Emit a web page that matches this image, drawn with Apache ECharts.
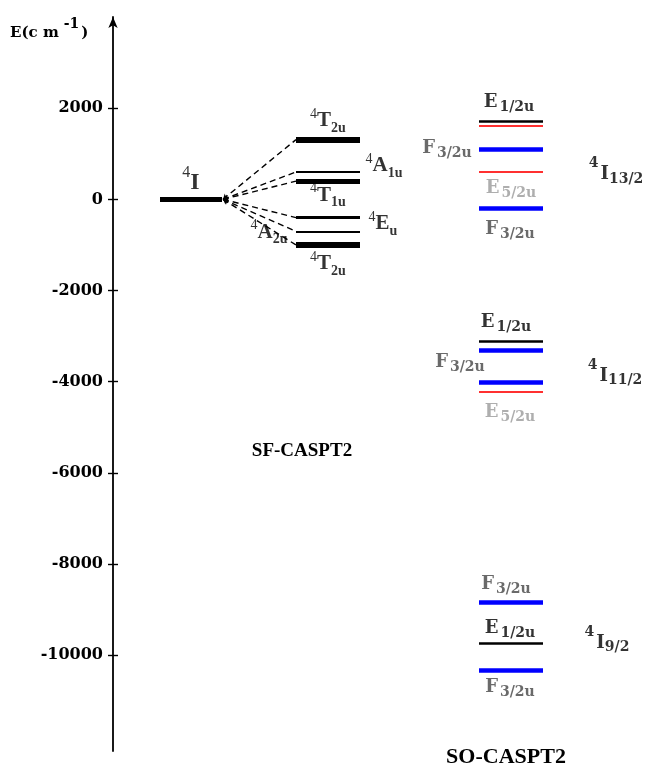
<!DOCTYPE html>
<html><head><meta charset="utf-8">
<script src="https://cdn.jsdelivr.net/npm/echarts@6/dist/echarts.min.js"></script>
<style>html,body{margin:0;padding:0;background:#fff}#c{width:648px;height:767px}</style>
</head><body><div id="c"></div>
<script>
// ---------------- DATA ----------------
const yTicks = [2000, 0, -2000, -4000, -6000, -8000, -10000];

const freeIonLabel = ['4', 'I', ''];
const freeIonEnergy = [0];

const sfStates = [['4','T','2u'], ['4','A','1u'], ['4','T','1u'], ['4','E','u'], ['4','A','2u'], ['4','T','2u']];
const sfEnergies = [1310, 600, 400, -400, -700, -1000];

const soTerms = [['4','I','13/2'], ['4','I','11/2'], ['4','I','9/2']];
const soSym13 = ['E1/2u', 'E5/2u', 'F3/2u', 'E5/2u', 'F3/2u'];
const soE13 = [1710, 1610, 1105, 610, -200];
const soSym11 = ['E1/2u', 'F3/2u', 'F3/2u', 'E5/2u'];
const soE11 = [-3115, -3310, -4005, -4215];
const soSym9 = ['F3/2u', 'E1/2u', 'F3/2u'];
const soE9 = [-8830, -9730, -10330];

// ---------------- LAYOUT / STYLE ----------------
const X_ION = [160, 222], X_SF = [296, 360], X_SO = [479, 543];
const sfWidths = [6, 2, 5, 3, 2, 6];
const sfLabelPos = [[328, -19], [384, -6], [328, 14], [383, 6], [269, 1], [328, 19]];
const ionLabelPos = [191, -17];
const soLabelPos = [
  [[509, -19], null, [447, -1], [511, 17], [510, 21]],
  [[506, -19], [460, 12], null, [510, 21]],
  [[506, -18], [510, -15], [510, 17]]
];
const termLabelPos = [[3, 616, 3], [2, 615, -6], [1, 607, 0]]; // [anchor level index, x, dy]
const symStyle = {
  'E1/2u': {line: '#000000', width: 2.5, text: '#000000'},
  'F3/2u': {line: '#0000ff', width: 4.5, text: '#454545'},
  'E5/2u': {line: '#ff3030', width: 2, text: '#9a9a9a'}
};

const SERIF = '"Liberation Serif", "Times New Roman", serif';
const DSERIF = '"DejaVu Serif", serif';
const rich = {
  sfSup: {fontFamily: SERIF, fontSize: 14, color: '#000', padding: [0, 0, 13, 0]},
  sfMain: {fontFamily: SERIF, fontSize: 21, fontWeight: 'bold', color: '#000'},
  sfSub: {fontFamily: SERIF, fontSize: 14, fontWeight: 'bold', color: '#000', padding: [15, 0, 0, 0]},
  ionSup: {fontFamily: SERIF, fontSize: 16, color: '#000', padding: [0, 0, 19, 0]},
  ionMain: {fontFamily: SERIF, fontSize: 24, fontWeight: 'bold', color: '#000'},
  tSup: {fontFamily: DSERIF, fontSize: 14, fontWeight: 'bold', color: '#000', padding: [0, 2, 22, 0]},
  tMain: {fontFamily: DSERIF, fontSize: 18, fontWeight: 'bold', color: '#000'},
  tSub: {fontFamily: DSERIF, fontSize: 14, fontWeight: 'bold', color: '#000', padding: [9, 0, 0, 0]}
};
Object.keys(symStyle).forEach((k, i) => {
  rich['soMain' + i] = {fontFamily: DSERIF, fontSize: 18, fontWeight: 'bold', color: symStyle[k].text};
  rich['soSub' + i] = {fontFamily: DSERIF, fontSize: 14, fontWeight: 'bold', color: symStyle[k].text, padding: [10, 0, 0, 2]};
});
const symIndex = s => Object.keys(symStyle).indexOf(s);

// ---------------- BUILD ----------------
const levelData = [];
const connectorData = [];
const labelData = [];
const labelDy = [];

levelData.push({coords: [[X_ION[0], freeIonEnergy[0]], [X_ION[1], freeIonEnergy[0]]], lineStyle: {width: 5, color: '#000'}});
labelData.push({value: [ionLabelPos[0], freeIonEnergy[0]], label: {
  formatter: `{ionSup|${freeIonLabel[0]}}{ionMain|${freeIonLabel[1]}}`}});
labelDy.push(ionLabelPos[1]);

sfEnergies.forEach((e, i) => {
  levelData.push({coords: [[X_SF[0], e], [X_SF[1], e]], lineStyle: {width: sfWidths[i], color: '#000'}});
  connectorData.push({coords: [[X_ION[1] + 1, freeIonEnergy[0]], [X_SF[0], e]]});
  const s = sfStates[i];
  labelData.push({value: [sfLabelPos[i][0], e], label: {
    formatter: `{sfSup|${s[0]}}{sfMain|${s[1]}}{sfSub|${s[2]}}`}});
  labelDy.push(sfLabelPos[i][1]);
});

[[soSym13, soE13], [soSym11, soE11], [soSym9, soE9]].forEach(([syms, es], g) => {
  es.forEach((e, i) => {
    const st = symStyle[syms[i]];
    levelData.push({coords: [[X_SO[0], e], [X_SO[1], e]], lineStyle: {width: st.width, color: st.line}});
    const p = soLabelPos[g][i];
    if (p) {
      const k = symIndex(syms[i]);
      labelData.push({value: [p[0], e], label: {
        formatter: `{soMain${k}|${syms[i].charAt(0)}}{soSub${k}|${syms[i].slice(1)}}`}});
      labelDy.push(p[1]);
    }
  });
  const t = soTerms[g], tp = termLabelPos[g];
  labelData.push({value: [tp[1], es[tp[0]]], label: {
    formatter: `{tSup|${t[0]}}{tMain|${t[1]}}{tSub|${t[2]}}`}});
  labelDy.push(tp[2]);
});

const chart = echarts.init(document.getElementById('c'), null, {renderer: 'canvas'});
chart.setOption({
  animation: false,
  backgroundColor: '#fff',
  grid: {left: 113, right: 0, top: 17, bottom: 16, containLabel: false},
  xAxis: {type: 'value', min: 113, max: 648, show: false},
  yAxis: [{
    type: 'value', min: -12100, max: 4000, position: 'left',
    axisLine: {show: true, onZero: false, symbol: ['none', 'arrow'], symbolSize: [7, 11],
      lineStyle: {color: '#000', width: 1.8}},
    axisTick: {show: true, inside: false, length: 5, customValues: yTicks, lineStyle: {color: '#000', width: 1.4}},
    axisLabel: {show: true, customValues: yTicks, margin: 10, formatter: v => String(v),
      fontFamily: DSERIF, fontSize: 16, fontWeight: 'bold', color: '#000'},
    splitLine: {show: false}
  }, {
    type: 'value', min: -12100, max: 4000, position: 'left', offset: 0,
    axisLine: {show: false},
    axisTick: {show: true, inside: true, length: 5, customValues: yTicks, lineStyle: {color: '#000', width: 1.4}},
    axisLabel: {show: false},
    splitLine: {show: false}
  }],
  series: [{
    type: 'lines', coordinateSystem: 'cartesian2d', polyline: false, silent: true, z: 3,
    lineStyle: {opacity: 1, cap: 'butt'},
    data: levelData
  }, {
    type: 'lines', coordinateSystem: 'cartesian2d', polyline: false, silent: true, z: 2,
    symbol: ['arrow', 'none'], symbolSize: 5,
    lineStyle: {opacity: 1, color: '#000', width: 1.4, type: [6, 4]},
    data: connectorData
  }, {
    type: 'scatter', symbol: 'circle', symbolSize: 1, silent: true, z: 4,
    itemStyle: {color: 'rgba(0,0,0,0)'},
    label: {show: true, position: 'inside', align: 'center', verticalAlign: 'middle', rich: rich},
    labelLayout: params => ({dy: labelDy[params.dataIndex], hideOverlap: false}),
    data: labelData
  }],
  graphic: [{
    type: 'text', x: 10, y: 33,
    style: {
      text: '{a|E(c m}{b|-1}{a|)}', align: 'left', verticalAlign: 'middle',
      rich: {
        a: {fontFamily: DSERIF, fontSize: 15, fontWeight: 'bold', color: '#000'},
        b: {fontFamily: DSERIF, fontSize: 14, fontWeight: 'bold', color: '#000', padding: [0, 2, 18, 5]}
      }
    }
  }, {
    type: 'text', x: 302, y: 451,
    style: {text: 'SF-CASPT2', fill: '#000', font: 'bold 19px ' + SERIF, align: 'center', verticalAlign: 'middle'}
  }, {
    type: 'text', x: 506, y: 757,
    style: {text: 'SO-CASPT2', fill: '#000', font: 'bold 22px ' + SERIF, align: 'center', verticalAlign: 'middle'}
  }]
});
</script></body></html>
